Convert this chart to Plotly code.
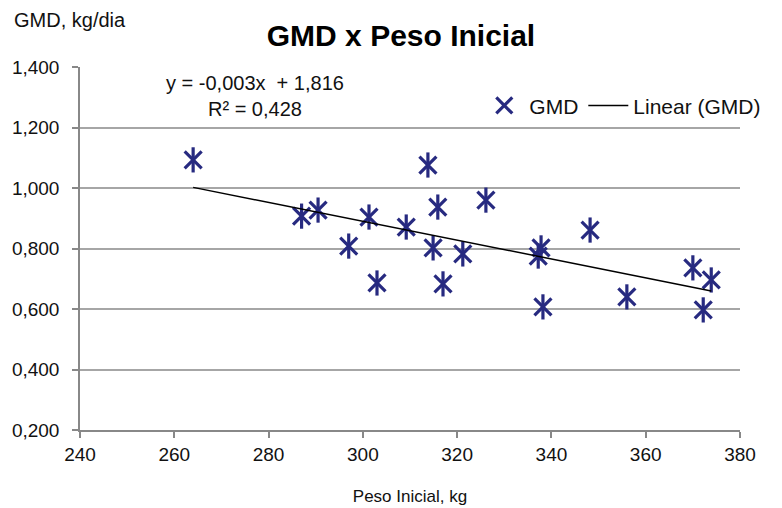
import numpy as np
import plotly.graph_objects as go

peso_inicial = [264, 287, 290.5, 297, 301.3, 303, 309.2, 313.8, 314.9, 315.9, 317, 321.2,
                326.1, 337.2, 337.8, 338.2, 348.2, 356, 370, 372.2, 373.9]
gmd = [1.093, 0.907, 0.927, 0.808, 0.904, 0.686, 0.871, 1.076, 0.802, 0.937, 0.683, 0.782,
       0.960, 0.775, 0.802, 0.607, 0.861, 0.640, 0.736, 0.597, 0.696]

y_ticks = [0.2, 0.4, 0.6, 0.8, 1.0, 1.2, 1.4]
y_tick_labels = ["0,200", "0,400", "0,600", "0,800", "1,000", "1,200", "1,400"]
x_ticks = [240, 260, 280, 300, 320, 340, 360, 380]

equation_text = "y = -0,003x  + 1,816<br>R² = 0,428"

# linear trend from data
coef = np.polyfit(peso_inicial, gmd, 1)
x_trend = [min(peso_inicial), max(peso_inicial)]
y_trend = [coef[0] * v + coef[1] for v in x_trend]

font_family = "Liberation Sans, Arial, sans-serif"
navy = "#272A80"
msize = 17
body_off = 8  # default page body margin

fig = go.Figure()
fig.add_trace(go.Scatter(
    x=peso_inicial, y=gmd, mode="markers", name="GMD", legendgroup="gmd",
    marker=dict(symbol="x-thin-open", size=msize, color=navy,
                line=dict(color=navy, width=3.2)),
))
fig.add_trace(go.Scatter(
    x=peso_inicial, y=gmd, mode="markers", name="GMD", legendgroup="gmd",
    showlegend=False, hoverinfo="skip",
    marker=dict(symbol="line-ns-open", size=msize + 1, color=navy,
                line=dict(color=navy, width=3.2)),
))
fig.add_trace(go.Scatter(
    x=x_trend, y=y_trend, mode="lines", name="Linear (GMD)",
    line=dict(color="black", width=1.5),
))

fig.update_layout(
    width=782, height=508,
    margin=dict(l=80 - body_off, r=42 + body_off, t=67 - body_off, b=78 + body_off,
                autoexpand=False),
    paper_bgcolor="white", plot_bgcolor="white",
    font=dict(family=font_family, size=19, color="#111"),
    title=dict(text="<b>GMD x Peso Inicial</b>", x=(401 - body_off) / 782, xanchor="center",
               y=1 - (35 - body_off) / 508, yanchor="middle", xref="container",
               yref="container", font=dict(size=30, color="black")),
    showlegend=True,
    legend=dict(orientation="h", x=0.605, y=0.893, xanchor="left", yanchor="middle",
                bgcolor="rgba(0,0,0,0)", font=dict(size=21), itemwidth=40,
                tracegroupgap=0),
    xaxis=dict(range=[240, 380], tickvals=x_ticks, showgrid=False, automargin=False,
               showline=True, linecolor="#888", linewidth=1.5,
               ticks="outside", ticklen=6, tickcolor="#888", tickwidth=1.5,
               zeroline=False, tickfont=dict(size=19),
               title=dict(text="Peso Inicial, kg", standoff=27, font=dict(size=17))),
    yaxis=dict(range=[0.2, 1.4], tickvals=y_ticks, ticktext=y_tick_labels, automargin=False,
               showgrid=True, gridcolor="#A6A6A6", gridwidth=1.5,
               showline=True, linecolor="#888", linewidth=1.5,
               ticks="outside", ticklen=6, tickcolor="#888", tickwidth=1.5,
               zeroline=False, ticklabelstandoff=9, tickfont=dict(size=19)),
    annotations=[
        dict(text=equation_text, x=277.1, y=1.304, xref="x", yref="y",
             showarrow=False, font=dict(size=20, color="#111"), align="center"),
        dict(text="GMD, kg/dia", x=(12 - 80) / 660, y=(430 - 20) / 363,
             xref="paper", yref="paper", xanchor="left", yanchor="middle",
             showarrow=False, font=dict(size=20, color="#111")),
    ],
)

fig.write_html("out.html")
